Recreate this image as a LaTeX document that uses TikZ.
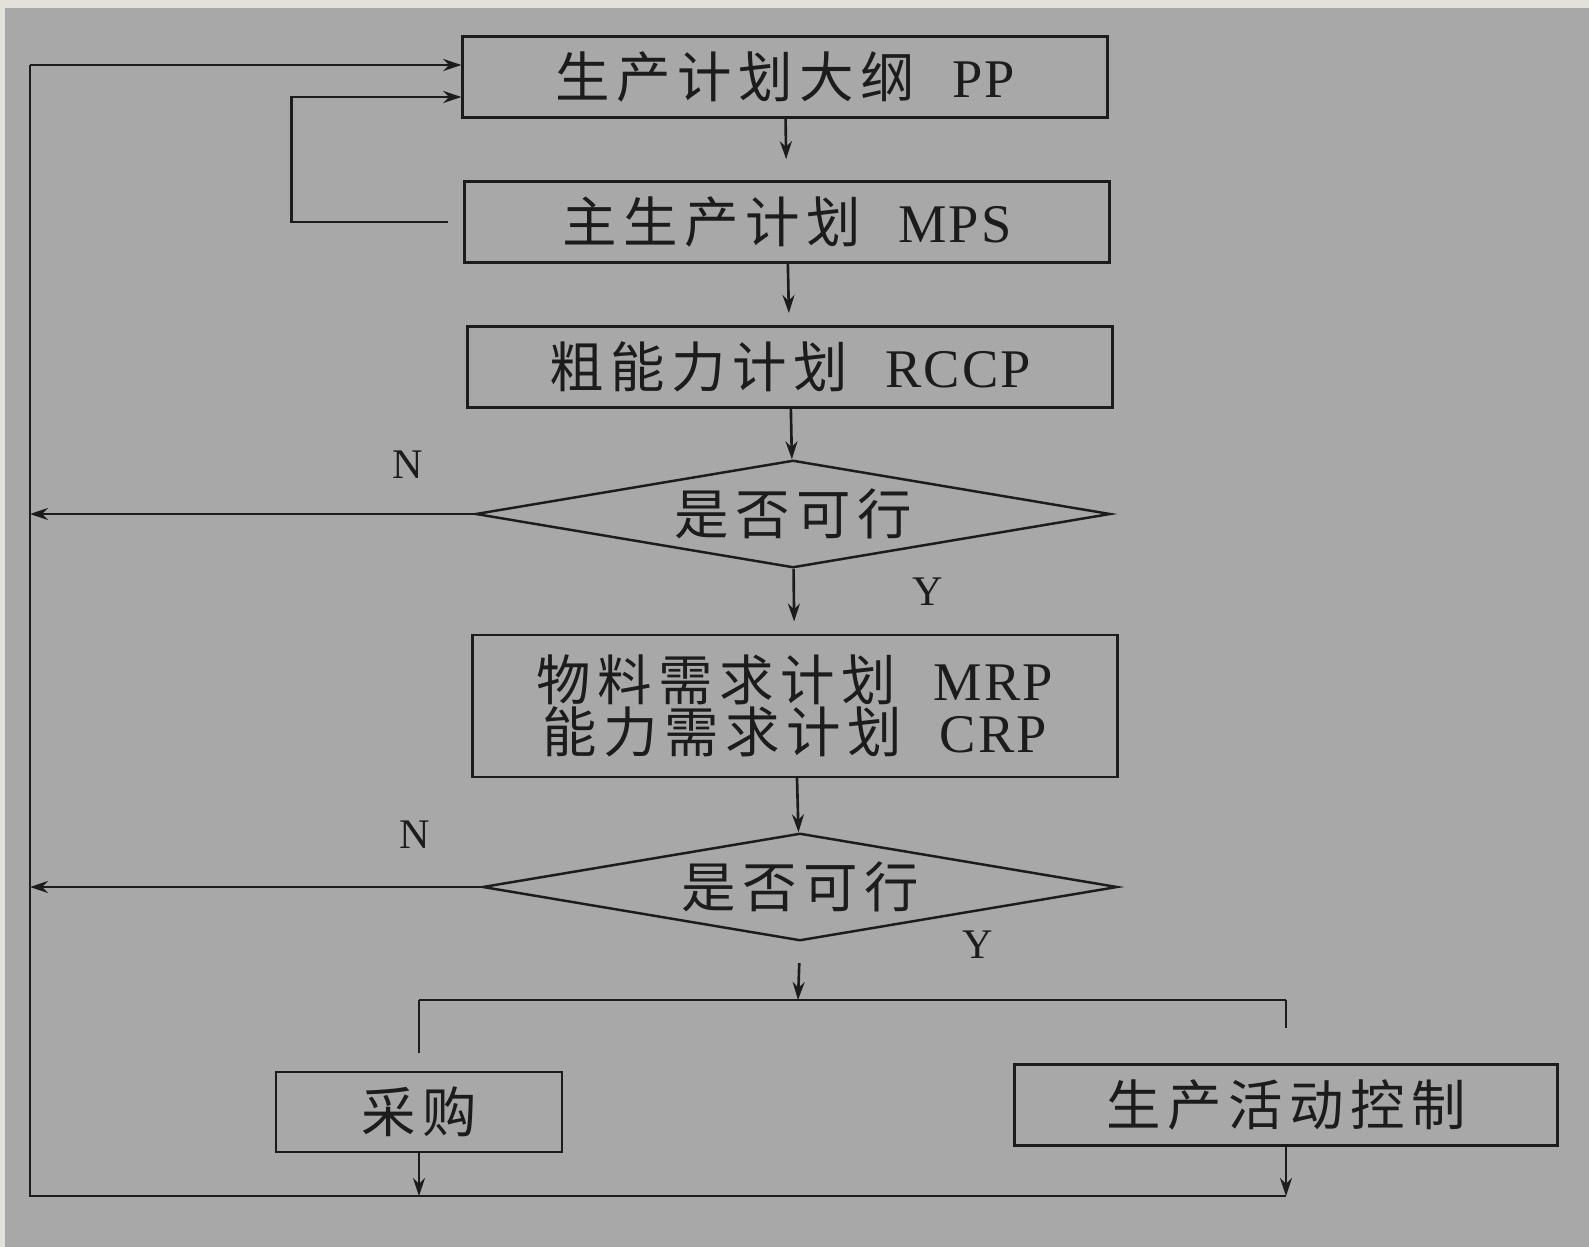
\documentclass[tikz,border=0pt]{standalone}
\usepackage{fontspec}
\setmainfont{Liberation Serif}[LetterSpace=4]
\newfontfamily\cjk{Noto Sans CJK SC}[LetterSpace=12]
\usetikzlibrary{shapes.geometric,arrows.meta,calc}
\definecolor{paper}{HTML}{A8A8A8}
\definecolor{edge}{HTML}{E2E2DA}
\definecolor{ink}{HTML}{1C1C1C}
\newcommand{\zh}[1]{{\cjk #1}}
\newcommand{\gap}{\hspace{0.75cm}}

\begin{document}
\begin{tikzpicture}[
    x=0.02cm, y=-0.02cm,
    box/.style={rectangle, draw=ink, line width=1.4pt, minimum width=12.9cm, minimum height=1.62cm,
        inner sep=0pt, align=center, text=ink, font=\fontsize{31}{26}\selectfont},
    check/.style={diamond, draw=ink, line width=1.4pt, aspect=6, inner sep=0pt,
        minimum width=12.7cm, minimum height=2.15cm, text=ink, font=\fontsize{31}{30}\selectfont},
    mark label/.style={text=ink, font=\fontsize{24}{26}\selectfont},
    line/.style={draw=ink, line width=1.5pt},
    flow/.style={line, -{Stealth[length=0.36cm,width=0.24cm]}}
]
\useasboundingbox (0,0) rectangle (1589,1247);
\fill[paper] (0,0) rectangle (1589,1247);
\fill[edge] (0,0) rectangle (1589,8);
\fill[edge] (0,0) rectangle (5,1247);

% Planning levels
\node[box] (pp) at (785,77) {\zh{生产计划大纲}\gap PP};
\node[box] (mps) at (787,222) {\zh{主生产计划}\gap MPS};
\node[box] (rccp) at (790,367) {\zh{粗能力计划}\gap RCCP};
\node[check] (chk1) at (793,514) {\zh{是否可行}};
\node[box, minimum height=2.84cm] (mrp) at (795,706) {\zh{物料需求计划}\gap MRP\\\zh{能力需求计划}\gap CRP};
\node[check] (chk2) at (800,887) {\zh{是否可行}};
\node[box, minimum width=5.72cm, minimum height=1.6cm] (buy) at (419,1112) {\zh{采购}};
\node[box, minimum width=10.86cm] (ctrl) at (1286,1105) {\zh{生产活动控制}};

% Labels
\node[mark label] (n1) at (408,465) {N};
\node[mark label] (y1) at (928,592) {Y};
\node[mark label] (n2) at (415,835) {N};
\node[mark label] (y2) at (978,945) {Y};

% Feedback frame
\coordinate (fbtop) at (30,65);
\coordinate (fbbot) at (30,1196);
\coordinate (split) at (798,1000);

% Main flow
\draw[flow, shorten >=12pt] (pp) -- (mps);
\draw[flow, shorten >=7pt] (mps) -- (rccp);
\draw[flow] (rccp) -- (chk1);
\draw[flow, shorten >=7pt] (chk1) -- (mrp);
\draw[flow] (mrp) -- (chk2);
\draw[flow, shorten <=12pt] (chk2.south) -- (split);
\draw[line] (split -| buy) -- (split -| ctrl);
\draw[line, shorten >=10pt] (split -| buy) -- (buy.north);
\draw[line, shorten >=20pt] (split -| ctrl) -- (ctrl.north);

% Loops back
\draw[flow] (mps.west) ++(-15,0) -- ++(-157,0) |- ($(pp.west)+(0,20)$);
\draw[flow] (chk1.west) -- (chk1.west -| fbtop);
\draw[flow] (chk2.west) -- (chk2.west -| fbtop);
\draw[flow] (buy.south) -- (buy.south |- fbbot);
\draw[flow] (ctrl.south) -- (ctrl.south |- fbbot);
\draw[line] (ctrl.south |- fbbot) -- (fbbot) -- (fbtop);
\draw[flow] (fbtop) -- (fbtop -| pp.west);

\end{tikzpicture}
\end{document}
